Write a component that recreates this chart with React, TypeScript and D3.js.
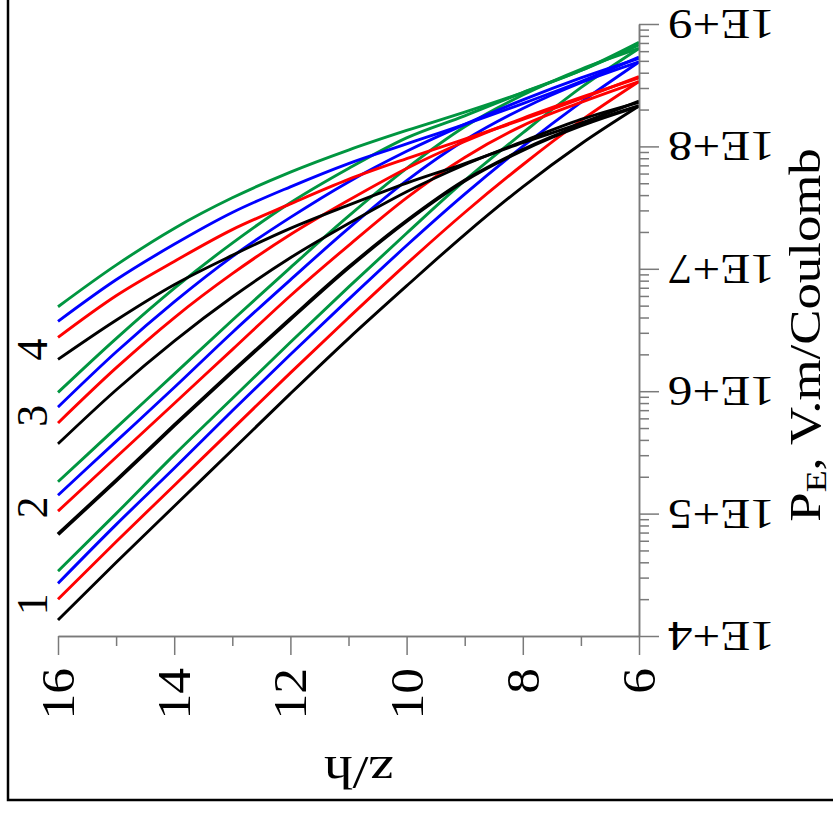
import { useEffect, useRef } from 'react';
import * as d3 from 'd3';

// z/h positions where the curves were read
const zh = [16, 15, 14, 13, 12, 11, 10, 9, 8, 7, 6];

// log10(P_E), groups 1..4, colours black/red/blue/green
const g1Black = [4.13, 4.6, 5.06, 5.52, 5.98, 6.43, 6.86, 7.28, 7.67, 8.02, 8.33];
const g1Red = [4.3, 4.77, 5.23, 5.69, 6.15, 6.6, 7.04, 7.46, 7.85, 8.21, 8.53];
const g1Blue = [4.43, 4.91, 5.37, 5.84, 6.3, 6.75, 7.19, 7.61, 8.0, 8.36, 8.69];
const g1Green = [4.53, 5.0, 5.48, 5.94, 6.4, 6.85, 7.29, 7.72, 8.11, 8.48, 8.8];

const g2Black = [4.83, 5.27, 5.72, 6.16, 6.59, 7.01, 7.39, 7.72, 7.97, 8.17, 8.33];
const g2Red = [5.02, 5.46, 5.9, 6.34, 6.78, 7.19, 7.58, 7.91, 8.17, 8.36, 8.53];
const g2Blue = [5.15, 5.59, 6.03, 6.48, 6.91, 7.33, 7.72, 8.05, 8.31, 8.52, 8.69];
const g2Green = [5.26, 5.7, 6.14, 6.58, 7.01, 7.43, 7.82, 8.16, 8.42, 8.63, 8.8];

const g3Black = [5.57, 6.01, 6.41, 6.77, 7.09, 7.37, 7.63, 7.85, 8.04, 8.22, 8.36];
const g3Red = [5.74, 6.19, 6.6, 6.96, 7.28, 7.56, 7.82, 8.04, 8.23, 8.4, 8.56];
const g3Blue = [5.87, 6.32, 6.73, 7.1, 7.42, 7.71, 7.96, 8.18, 8.38, 8.56, 8.72];
const g3Green = [5.99, 6.43, 6.84, 7.21, 7.54, 7.82, 8.07, 8.25, 8.44, 8.62, 8.83];

const g4Black = [6.26, 6.58, 6.87, 7.11, 7.33, 7.52, 7.7, 7.86, 8.03, 8.19, 8.37];
const g4Red = [6.44, 6.78, 7.06, 7.32, 7.53, 7.73, 7.9, 8.06, 8.22, 8.39, 8.57];
const g4Blue = [6.57, 6.91, 7.2, 7.46, 7.67, 7.86, 8.02, 8.18, 8.35, 8.53, 8.73];
const g4Green = [6.69, 7.03, 7.33, 7.58, 7.79, 7.97, 8.13, 8.28, 8.44, 8.62, 8.85];

const groupLabels = ['1', '2', '3', '4'];
const groupLabelLevels = [4.26, 5.05, 5.8, 6.34];

const xMajor = [16, 14, 12, 10, 8, 6];
const xMinor = [15, 13, 11, 9, 7];
const yMajorExp = [4, 5, 6, 7, 8, 9];

const colors = { black: '#000000', red: '#ff0000', blue: '#0000ff', green: '#009640' };

const series = [
  { v: g1Black, c: colors.black, w: 2.9 },
  { v: g1Red, c: colors.red, w: 2.9 },
  { v: g1Blue, c: colors.blue, w: 2.9 },
  { v: g1Green, c: colors.green, w: 2.9 },
  { v: g2Black, c: colors.black, w: 3.8 },
  { v: g2Red, c: colors.red, w: 2.9 },
  { v: g2Blue, c: colors.blue, w: 2.9 },
  { v: g2Green, c: colors.green, w: 2.9 },
  { v: g3Black, c: colors.black, w: 2.9 },
  { v: g3Red, c: colors.red, w: 2.9 },
  { v: g3Blue, c: colors.blue, w: 2.9 },
  { v: g3Green, c: colors.green, w: 2.9 },
  { v: g4Black, c: colors.black, w: 2.9 },
  { v: g4Red, c: colors.red, w: 2.9 },
  { v: g4Blue, c: colors.blue, w: 2.9 },
  { v: g4Green, c: colors.green, w: 2.9 },
];

const FONT = '"Liberation Serif", "Times New Roman", serif';

export default function App() {
  const svgRef = useRef<SVGSVGElement>(null);
  const width = 833;
  const height = 816;

  useEffect(() => {
    if (!svgRef.current) return;
    const svg = d3.select(svgRef.current);
    svg.selectAll('*').remove();

    const x = d3.scaleLinear().domain([16, 6]).range([58, 639]);
    const y = d3.scaleLog().domain([1e4, 1e9]).range([636, 24]);
    const axisColor = '#7a7a7a';

    // outer frame (cut by the picture on top and right)
    svg
      .append('rect')
      .attr('x', 8)
      .attr('y', -10)
      .attr('width', 900)
      .attr('height', 810)
      .attr('fill', 'none')
      .attr('stroke', '#000')
      .attr('stroke-width', 2.5);

    // curves
    const line = d3
      .line<number>()
      .x((_, i) => x(zh[i]))
      .y((d) => y(Math.pow(10, d)))
      .curve(d3.curveMonotoneX);

    svg
      .append('g')
      .selectAll('path')
      .data(series)
      .enter()
      .append('path')
      .attr('d', (d) => line(d.v) || '')
      .attr('fill', 'none')
      .attr('stroke', (d) => d.c)
      .attr('stroke-width', (d) => d.w);

    // x axis
    const xg = svg.append('g').attr('transform', 'translate(0,636)');
    xg.call(d3.axisBottom(x).tickValues(xMajor).tickSize(19).tickSizeOuter(0).tickFormat(() => ''));
    xg.append('g').call(d3.axisBottom(x).tickValues(xMinor).tickSize(10).tickSizeOuter(0).tickFormat(() => ''));
    xg.selectAll('path.domain').attr('stroke', axisColor).attr('stroke-width', 1.5);
    xg.selectAll('.tick line').attr('stroke', axisColor).attr('stroke-width', 1.5);

    // y axis
    const minors: number[] = [];
    for (let e = 4; e < 9; e++) for (let k = 2; k <= 9; k++) minors.push(k * Math.pow(10, e));
    const yg = svg.append('g').attr('transform', 'translate(639,0)');
    yg.call(
      d3
        .axisRight(y)
        .tickValues(yMajorExp.map((e) => Math.pow(10, e)))
        .tickSize(20)
        .tickSizeOuter(0)
        .tickFormat(() => '')
    );
    yg.append('g').call(d3.axisRight(y).tickValues(minors).tickSize(10).tickSizeOuter(0).tickFormat(() => ''));
    yg.selectAll('path.domain').attr('stroke', axisColor).attr('stroke-width', 1.5);
    yg.selectAll('.tick line').attr('stroke', axisColor).attr('stroke-width', 1.5);

    // x tick labels, read bottom-to-top
    svg
      .append('g')
      .selectAll('text')
      .data(xMajor)
      .enter()
      .append('text')
      .attr('transform', (d) => `translate(${x(d) + 16},668) rotate(-90) scale(1.12,1)`)
      .attr('text-anchor', 'end')
      .attr('font-family', FONT)
      .attr('font-size', 46)
      .text((d) => d);

    // y tick labels, upside down
    svg
      .append('g')
      .selectAll('text')
      .data(yMajorExp)
      .enter()
      .append('text')
      .attr('transform', (d) => `translate(668,${y(Math.pow(10, d)) - 14}) rotate(180) scale(1.17,1)`)
      .attr('text-anchor', 'end')
      .attr('font-family', FONT)
      .attr('font-size', 42)
      .text((d) => `1E+${d}`);

    // group numbers on the left
    svg
      .append('g')
      .selectAll('text')
      .data(groupLabels)
      .enter()
      .append('text')
      .attr('transform', (_, i) => `translate(47,${y(Math.pow(10, groupLabelLevels[i]))}) rotate(-90)`)
      .attr('text-anchor', 'middle')
      .attr('font-family', FONT)
      .attr('font-size', 44)
      .text((d) => d);

    // x title
    svg
      .append('text')
      .attr('transform', 'translate(359,757) rotate(180) scale(1.25,1)')
      .attr('text-anchor', 'middle')
      .attr('font-family', FONT)
      .attr('font-size', 46)
      .text('z/h');

    // y title
    const yt = svg
      .append('text')
      .attr('transform', 'translate(820,335) rotate(-90) scale(1.2,1)')
      .attr('text-anchor', 'middle')
      .attr('font-family', FONT)
      .attr('font-size', 44);
    yt.append('tspan').text('P');
    yt.append('tspan').attr('font-size', 30).attr('dy', 6).text('E');
    yt.append('tspan').attr('dy', -6).text(',  V.m/Coulomb');
  }, []);

  return (
    <svg
      ref={svgRef}
      width={width}
      height={height}
      style={{ position: 'absolute', left: 0, top: 0, background: '#fff' }}
    />
  );
}
